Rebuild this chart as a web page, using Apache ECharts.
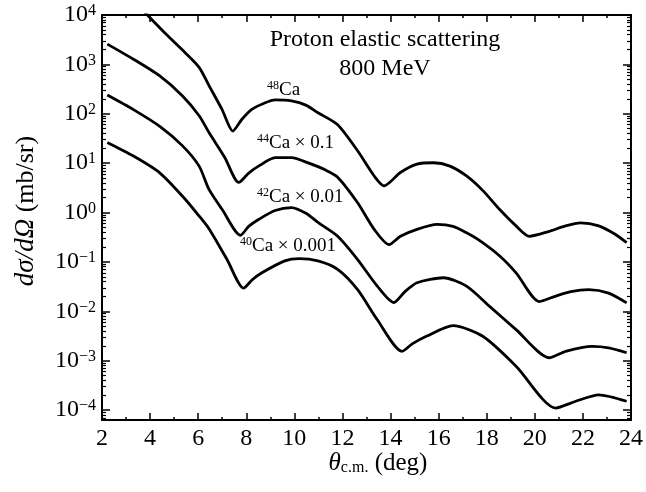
<!DOCTYPE html>
<html><head><meta charset="utf-8">
<script src="https://cdn.jsdelivr.net/npm/echarts@6/dist/echarts.min.js"></script>
<style>html,body{margin:0;padding:0;background:#fff}#c{width:646px;height:492px}</style>
</head><body><div id="c"></div>
<script>
// Angle (deg, c.m.) and cross-section values (mb/sr)
const ca48X = [3.5, 3.91, 4.67, 5.42, 6.04, 6.45, 6.99, 7.44, 7.82, 8.23, 8.72, 9.2, 9.88, 10.5, 10.98, 11.8, 12.63, 13.32, 13.73, 14.41, 15.1, 15.79, 16.47, 17.16, 17.85, 18.54, 19.22, 19.77, 20.6, 21.28, 21.9, 22.66, 23.34, 23.82];
const ca48Y = [15850, 9770, 4070, 1800, 871, 372, 123, 44.7, 77.6, 123, 162, 191, 182, 148, 105, 60, 17.8, 5.5, 3.47, 6.46, 9.55, 10.2, 8.71, 5.5, 2.75, 1.15, 0.537, 0.331, 0.417, 0.537, 0.617, 0.537, 0.363, 0.245];

const ca44X = [2.22, 3.29, 4.39, 5.35, 6.04, 6.45, 7.1, 7.69, 8.1, 8.51, 9.2, 9.88, 10.6, 11.3, 11.8, 12.63, 13.32, 13.94, 14.41, 15.1, 15.93, 16.6, 17.16, 17.71, 18.54, 19.22, 20.19, 20.87, 21.5, 22.24, 23.07, 23.82];
const ca44Y = [2570, 1290, 589, 229, 91.2, 41.7, 13.2, 4.07, 6.31, 8.71, 12.9, 12.9, 10.0, 7.24, 5.2, 1.58, 0.457, 0.224, 0.331, 0.457, 0.575, 0.525, 0.389, 0.27, 0.132, 0.0603, 0.0158, 0.0204, 0.0251, 0.0275, 0.0234, 0.0148];

const ca42X = [2.22, 3.29, 4.39, 5.35, 6.04, 6.45, 7.0, 7.76, 8.1, 8.51, 9.2, 9.88, 10.5, 10.98, 11.8, 12.63, 13.45, 14.14, 14.6, 15.1, 16.2, 17.16, 18.12, 19.22, 20.6, 21.28, 22.38, 23.07, 23.82];
const ca42Y = [240, 123, 56.2, 22.4, 8.71, 2.95, 1.15, 0.347, 0.525, 0.724, 1.1, 1.26, 0.955, 0.631, 0.331, 0.112, 0.0324, 0.0151, 0.0251, 0.038, 0.0479, 0.0324, 0.0126, 0.00427, 0.00115, 0.00155, 0.00195, 0.00182, 0.00145];

const ca40X = [2.22, 3.29, 4.39, 5.35, 6.04, 6.45, 7.2, 7.89, 8.25, 8.65, 9.6, 10.2, 10.98, 11.8, 12.63, 13.45, 14.48, 14.9, 15.51, 16.6, 17.85, 19.22, 20.87, 21.7, 22.66, 23.82];
const ca40Y = [26.3, 14.1, 6.46, 2.14, 0.851, 0.468, 0.112, 0.0295, 0.0437, 0.0603, 0.105, 0.117, 0.105, 0.0708, 0.0275, 0.00676, 0.00155, 0.00219, 0.00316, 0.00513, 0.00309, 0.000776, 0.00011, 0.000151, 0.000204, 0.000151];

const xTicks = [2, 4, 6, 8, 10, 12, 14, 16, 18, 20, 22, 24];
const yDecades = [-4, -3, -2, -1, 0, 1, 2, 3, 4];

const yMin = Math.pow(10, -4.2), yMax = 1e4;
const minorVals = [];
for (let e = -5; e <= 3; e++) for (let m = 2; m <= 9; m++) {
  const v = m * Math.pow(10, e);
  if (v > yMin && v < yMax) minorVals.push(v);
}

const FONT = '"Liberation Serif", "Times New Roman", serif';
const pairs = (xs, ys) => xs.map((x, i) => [x, ys[i]]);
const mkSeries = (name, xs, ys) => ({
  name, type: 'line', data: pairs(xs, ys), showSymbol: false, smooth: 0.25,
  clip: true, lineStyle: { color: '#000', width: 2.8, join: 'round' }, itemStyle: { color: '#000' }
});

const yFmt = v => {
  const e = Math.log10(v);
  const r = Math.round(e);
  if (Math.abs(e - r) > 1e-6 || yDecades.indexOf(r) < 0) return '';
  return '{b|10}{s|' + String(r).replace('-', '\u2212') + '}';
};

const axisLineStyle = { color: '#000', width: 2 };
const baseY = {
  type: 'log', logBase: 10, min: yMin, max: yMax, splitLine: { show: false }
};
const supRich = { n: { fontFamily: FONT, fontSize: 19, lineHeight: 20 }, s: { fontFamily: FONT, fontSize: 12, verticalAlign: 'top', lineHeight: 12, padding: [0,0,8,0] } };
const chart = echarts.init(document.getElementById('c'), null, { renderer: 'canvas' });
chart.setOption({
  animation: false,
  backgroundColor: '#fff',
  grid: { left: 102, right: 10, top: 15, bottom: 72 },
  xAxis: [
    { type: 'value', min: 2, max: 24, interval: 2, position: 'bottom',
      axisLine: { lineStyle: axisLineStyle },
      axisTick: { inside: true, length: 7, lineStyle: { color: '#000', width: 1.5 } },
      minorTick: { show: true, splitNumber: 2, length: 3, lineStyle: { color: '#000', width: 1.5 } },
      splitLine: { show: false },
      axisLabel: { color: '#000', fontFamily: FONT, fontSize: 24, margin: 7,
        formatter: v => xTicks.indexOf(v) >= 0 ? String(v) : '' } },
    { type: 'value', min: 2, max: 24, interval: 2, position: 'top',
      axisLine: { lineStyle: axisLineStyle },
      axisTick: { inside: true, length: 7, lineStyle: { color: '#000', width: 1.5 } },
      minorTick: { show: true, splitNumber: 2, length: 3, lineStyle: { color: '#000', width: 1.5 } },
      splitLine: { show: false }, axisLabel: { show: false } }
  ],
  yAxis: [
    Object.assign({}, baseY, { position: 'left',
      axisLine: { lineStyle: axisLineStyle },
      axisTick: { inside: true, length: 8, lineStyle: { color: '#000', width: 1.5 } },
      axisLabel: { formatter: yFmt, margin: 6, color: '#000',
        rich: {
          b: { fontFamily: FONT, fontSize: 24, color: '#000', lineHeight: 24 },
          s: { fontFamily: FONT, fontSize: 16, color: '#000', verticalAlign: 'top', lineHeight: 14, padding: [0, 0, 10, 0] }
        } } }),
    Object.assign({}, baseY, { position: 'left', axisLine: { show: false },
      axisTick: { inside: true, length: 4, customValues: minorVals, lineStyle: { color: '#000', width: 1.2 } },
      axisLabel: { show: false } }),
    Object.assign({}, baseY, { position: 'right',
      axisLine: { lineStyle: axisLineStyle },
      axisTick: { inside: true, length: 8, lineStyle: { color: '#000', width: 1.5 } },
      axisLabel: { show: false } }),
    Object.assign({}, baseY, { position: 'right', axisLine: { show: false },
      axisTick: { inside: true, length: 4, customValues: minorVals, lineStyle: { color: '#000', width: 1.2 } },
      axisLabel: { show: false } })
  ],
  series: [
    mkSeries('48Ca', ca48X, ca48Y),
    mkSeries('44Ca x 0.1', ca44X, ca44Y),
    mkSeries('42Ca x 0.01', ca42X, ca42Y),
    mkSeries('40Ca x 0.001', ca40X, ca40Y)
  ],
  graphic: [
    { type: 'text', x: 385, y: 40, style: { text: 'Proton elastic scattering', font: '24px ' + FONT, fill: '#000', textAlign: 'center', textVerticalAlign: 'middle' } },
    { type: 'text', x: 385, y: 69, style: { text: '800 MeV', font: '24px ' + FONT, fill: '#000', textAlign: 'center', textVerticalAlign: 'middle' } },
    { type: 'text', x: 267, y: 90, style: { text: '{s|48}{n|Ca}', fill: '#000', textAlign: 'left', textVerticalAlign: 'middle', rich: supRich } },
    { type: 'text', x: 257, y: 143, style: { text: '{s|44}{n|Ca \u00d7 0.1}', fill: '#000', textAlign: 'left', textVerticalAlign: 'middle', rich: supRich } },
    { type: 'text', x: 257, y: 197, style: { text: '{s|42}{n|Ca \u00d7 0.01}', fill: '#000', textAlign: 'left', textVerticalAlign: 'middle', rich: supRich } },
    { type: 'text', x: 240, y: 246, style: { text: '{s|40}{n|Ca \u00d7 0.001}', fill: '#000', textAlign: 'left', textVerticalAlign: 'middle', rich: supRich } },
    { type: 'text', x: 378, y: 463, style: { text: '{i|\u03b8}{sub|c.m.}{n| (deg)}', fill: '#000', textAlign: 'center', textVerticalAlign: 'middle',
        rich: { i: { fontFamily: FONT, fontStyle: 'italic', fontSize: 25, lineHeight: 26 }, sub: { fontFamily: FONT, fontSize: 16, verticalAlign: 'bottom', lineHeight: 16, padding: [8,0,0,0] }, n: { fontFamily: FONT, fontSize: 25, lineHeight: 26 } } } },
    { type: 'text', x: 26, y: 211, rotation: Math.PI / 2, style: { text: '{i|d\u03c3/d\u03a9}{n| (mb/sr)}', fill: '#000', textAlign: 'center', textVerticalAlign: 'middle',
        rich: { i: { fontFamily: FONT, fontStyle: 'italic', fontSize: 27, lineHeight: 28 }, n: { fontFamily: FONT, fontSize: 26, lineHeight: 28 } } } }
  ]
});
</script>
</body></html>
